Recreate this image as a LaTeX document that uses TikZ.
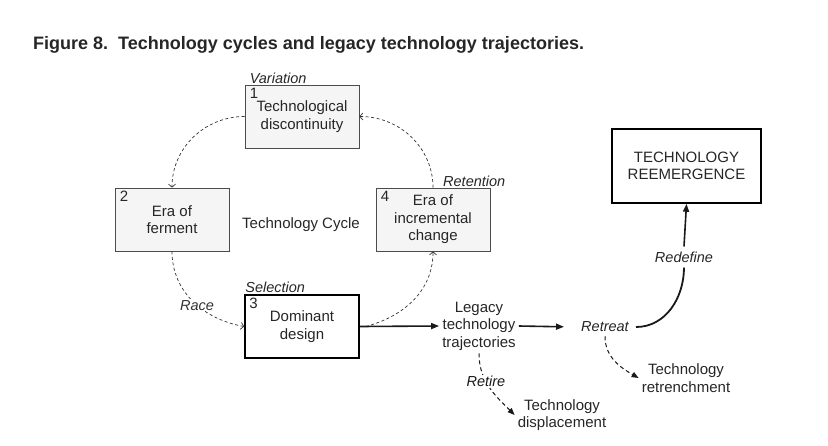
\documentclass[tikz,border=0pt]{standalone}
\usepackage{fontspec}
\setmainfont{Liberation Sans}
\usetikzlibrary{positioning,arrows.meta}
\begin{document}
\begin{tikzpicture}[x=1pt, y=-1pt, font=\fontsize{15}{17.5}\selectfont, text=black!85,
		box/.style={draw=black!70, fill=black!4, line width=0.8pt, minimum width=114pt, minimum height=63pt, align=center, inner sep=2pt},
		hbox/.style={box, draw=black, fill=white, line width=1.6pt},
		num/.style={anchor=north west, inner xsep=5pt, inner ysep=3.5pt},
		lbl/.style={font=\fontsize{14.5}{17}\selectfont\itshape, inner sep=1pt},
		txt/.style={align=center, inner sep=3pt},
		cyc/.style={dash pattern=on 3pt off 2.5pt, line width=0.7pt, black!80, -{Straight Barb[length=3pt,width=7pt]}},
		traj/.style={line width=1.6pt, black!90, -{Triangle[length=8pt,width=6pt]}},
		exit/.style={dash pattern=on 4pt off 3pt, line width=1pt, black!90, -{Triangle[length=7pt,width=5.5pt]}}]
		\useasboundingbox (0,0) rectangle (828,445);
		%titel
		\node[anchor=base west, inner sep=0, font=\fontsize{18}{21}\selectfont\bfseries] (titel) at (33,49) {Figure 8.\ \ Technology cycles and legacy technology trajectories.};
		%zyklus
		\node[box] (disc) at (302,116.5) {Technological\\discontinuity};
		\node[box] (ferm) at (172,219.5) {Era of\\ferment};
		\node[hbox] (dom) at (302,326.5) {Dominant\\design};
		\node[box] (incr) at (433,219.5) {Era of\\incremental\\change};
		\node[num] (n1) at (disc.north west) {1};
		\node[num] (n2) at (ferm.north west) {2};
		\node[num] (n3) at (dom.north west) {3};
		\node[num] (n4) at (incr.north west) {4};
		\node[lbl, anchor=south west, xshift=4pt] (var) at (disc.north west) {Variation};
		\node[lbl, anchor=south west] (sel) at (dom.north west) {Selection};
		\node[lbl, anchor=south west, xshift=9pt] (ret) at (incr.north) {Retention};
		\node (cycle) at (301,225) {Technology Cycle};
		\draw[cyc] (disc.west) to[out=180, in=90] (ferm.north);
		\draw[cyc] (ferm.south) to[out=-90, in=170] node[lbl, fill=white, pos=0.55] (race) {Race} (dom.west);
		\draw[cyc] ([xshift=6pt]dom.east) to[out=15, in=-90] (incr.south);
		\draw[cyc] (incr.north) to[out=90, in=0] (disc.east);
		%legacy
		\node[txt] (leg) at (479,326) {Legacy\\technology\\trajectories};
		\node[lbl, inner xsep=7pt, inner ysep=4pt] (retreat) at (605,327) {Retreat};
		\node[lbl, inner ysep=5pt] (redef) at (684,257) {Redefine};
		\node[hbox, minimum width=149pt, minimum height=74pt] (reem) at (686.5,166) {TECHNOLOGY\\REEMERGENCE};
		\node[txt] (retr) at (686,378) {Technology\\retrenchment};
		\node[txt] (displ) at (562,415) {Technology\\displacement};
		\draw[traj] (dom.east) -- (leg.west);
		\draw[traj, shorten >=10pt] (leg.east) -- (retreat.west);
		\draw[line width=1.8pt, black!90] (retreat.east) to[out=0, in=-90] (redef.south);
		\draw[traj] (redef.north) -- (reem.south);
		\draw[exit] (retreat.south) to[out=-90, in=150] (retr.west);
		\draw[exit] (leg.south) to[out=-90, in=135] node[lbl, fill=white, pos=0.4] (retire) {Retire} (displ.west);
	\end{tikzpicture}
\end{document}
